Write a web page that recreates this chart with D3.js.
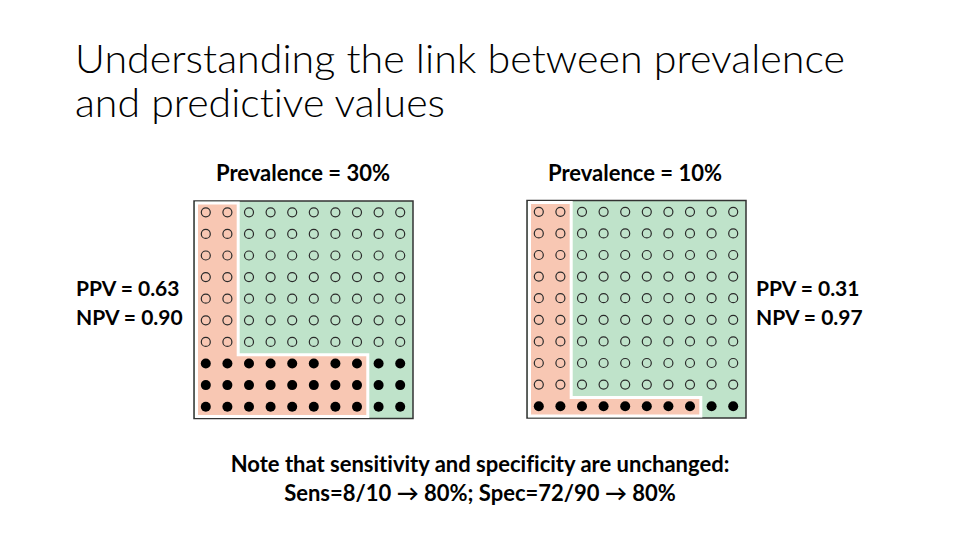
<!DOCTYPE html>
<html lang="en">
<head>
    <meta charset="UTF-8">
    <title>Prevalence and predictive values</title>
    <style>
        body { margin: 0; background: #fff; }
        text { font-family: Lato, "Open Sans", sans-serif; fill: #000; font-variant-ligatures: none; }
        .title { font-weight: 300; font-size: 40px; }
        .lbl { font-weight: 700; font-size: 21px; }
        .big { font-size: 22px; }
    </style>
</head>
<body>
    <div id="chart"></div>

    <script src="https://d3js.org/d3.v7.min.js"></script>
    <script>
        const width = 960;
        const height = 540;

        // Data for the two 10x10 panels
        const panelLabels = ["Prevalence = 30%", "Prevalence = 10%"];
        const diseasedRows = [3, 1];        // bottom rows with disease (filled dots)
        const fpCols = [2, 2];              // test-positive columns among healthy rows
        const tpCols = [8, 8];              // test-positive columns among diseased rows
        const ppvLabels = ["PPV = 0.63", "PPV = 0.31"];
        const npvLabels = ["NPV = 0.90", "NPV = 0.97"];
        const titleLines = ["Understanding the link between prevalence", "and predictive values"];
        const noteLines = ["Note that sensitivity and specificity are unchanged:",
                           "Sens=8/10 \u2192 80%; Spec=72/90 \u2192 80%"];

        const svg = d3.select("#chart").append("svg")
            .attr("width", width)
            .attr("height", height);

        // Title
        svg.selectAll("text.title")
            .data(titleLines)
            .enter().append("text")
            .attr("class", "title")
            .attr("x", 75)
            .attr("y", (d, i) => 73 + i * 44)
            .attr("textLength", (d, i) => i === 0 ? 770 : 370)
            .attr("lengthAdjust", "spacingAndGlyphs")
            .text(d => d);

        // panel geometry
        const cell = 21.6;
        const origins = [{x: 195, y: 201.5}, {x: 528, y: 201}];
        const idx = d3.range(10);

        panelLabels.forEach((label, p) => {
            const o = origins[p];
            const xs = d3.scaleBand().domain(idx).range([o.x, o.x + 10 * cell]);
            const ys = d3.scaleBand().domain(idx).range([o.y, o.y + 10 * cell]);
            const g = svg.append("g");

            const firstSick = 10 - diseasedRows[p];

            // green background + frame
            g.append("rect")
                .attr("x", o.x - 1)
                .attr("y", o.y - 0.5)
                .attr("width", 10 * cell + 3)
                .attr("height", 10 * cell + 1.5)
                .attr("fill", "#bfe3ca")
                .attr("stroke", "#333")
                .attr("stroke-width", 1.5);

            // test-positive region (salmon, outlined in white)
            const x0 = o.x + 1.5, y0 = o.y + 1.5;
            const xa = xs(fpCols[p]), xb = xs(tpCols[p]);
            const yb = ys(firstSick) + 2;
            const yEnd = o.y + 10 * cell - 1;
            g.append("polygon")
                .attr("points", [[x0, y0], [xa, y0], [xa, yb], [xb, yb], [xb, yEnd], [x0, yEnd]]
                    .map(d => d.join(",")).join(" "))
                .attr("fill", "#f8c7b3")
                .attr("stroke", "#fff")
                .attr("stroke-width", 3);

            // people
            const people = [];
            idx.forEach(r => idx.forEach(c => people.push({r, c, sick: r >= firstSick})));
            g.selectAll("circle")
                .data(people)
                .enter().append("circle")
                .attr("cx", d => xs(d.c) + xs.bandwidth() / 2)
                .attr("cy", d => ys(d.r) + ys.bandwidth() / 2)
                .attr("r", d => d.sick ? 5 : 4.5)
                .attr("fill", d => d.sick ? "#000" : "none")
                .attr("stroke", d => d.sick ? "none" : "#2a2a2a")
                .attr("stroke-width", 1.2);

            // prevalence label
            svg.append("text")
                .attr("class", "lbl big")
                .attr("x", o.x + 5 * cell + (p === 0 ? 0 : -1))
                .attr("y", 181)
                .attr("text-anchor", "middle")
                .text(label);

            // PPV / NPV labels
            const lx = p === 0 ? 76 : 756;
            svg.append("text").attr("class", "lbl").attr("x", lx).attr("y", 296).text(ppvLabels[p]);
            svg.append("text").attr("class", "lbl").attr("x", lx).attr("y", 325).text(npvLabels[p]);
        });

        // note
        svg.selectAll("text.note")
            .data(noteLines)
            .enter().append("text")
            .attr("class", "lbl big note")
            .attr("x", 480)
            .attr("y", (d, i) => 472 + i * 29)
            .attr("text-anchor", "middle")
            .text(d => d);
    </script>
</body>
</html>
